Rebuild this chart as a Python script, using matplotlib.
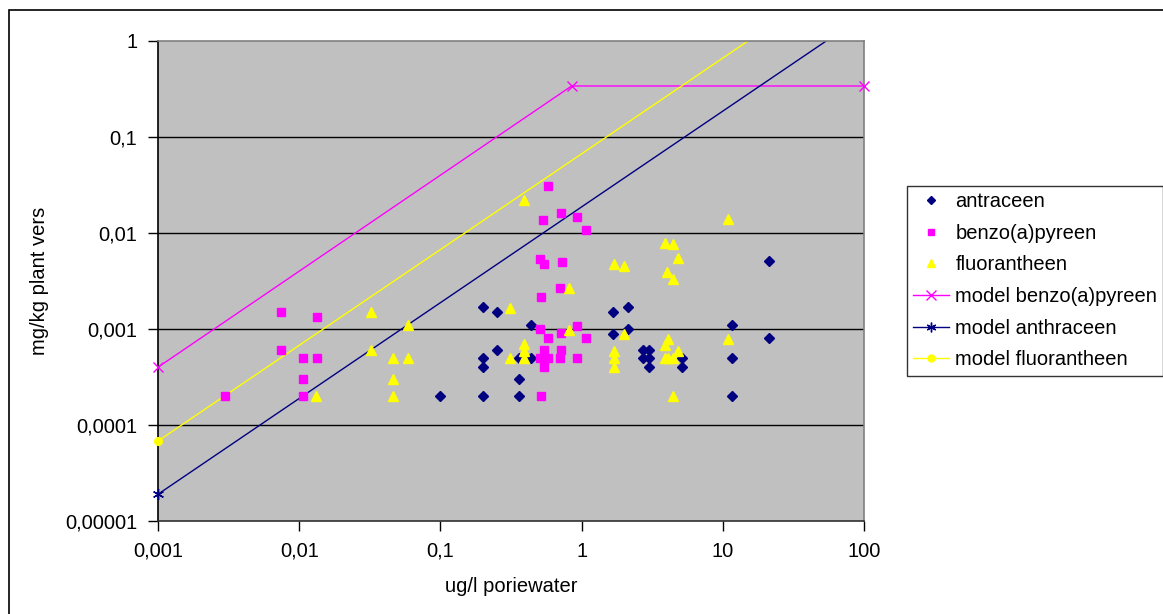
import matplotlib.pyplot as plt
from matplotlib.patches import Rectangle
from matplotlib.ticker import FixedLocator, NullLocator

plt.rcParams['font.family'] = ['Liberation Sans', 'DejaVu Sans']

# measured data, ug/l poriewater vs mg/kg plant vers
antr_x = [0.1, 0.2, 0.25, 0.44, 0.25, 0.2, 0.2, 0.36, 0.44, 0.36, 0.2, 0.36,
          1.68, 2.14, 1.68, 2.14, 21.2, 11.6, 21.2, 2.74, 3.0, 2.74, 3.0, 3.0,
          5.14, 5.14, 11.6, 11.6]
antr_y = [0.0002, 0.0017, 0.0015, 0.0011, 0.0006, 0.0005, 0.0004, 0.0005, 0.0005,
          0.0003, 0.0002, 0.0002, 0.0015, 0.0017, 0.00089, 0.001, 0.0051, 0.0011,
          0.0008, 0.0006, 0.0006, 0.0005, 0.0005, 0.0004, 0.0005, 0.0004, 0.0005,
          0.0002]

bap_x = [0.0074, 0.0133, 0.0074, 0.0107, 0.0133, 0.0107, 0.003, 0.0107,
         0.58, 0.72, 0.53, 0.93, 1.08, 0.51, 0.545, 0.73, 0.70, 0.52, 0.51, 0.93,
         0.72, 0.58, 1.08, 0.545, 0.72, 0.70, 0.51, 0.58, 0.93, 0.545, 0.52]
bap_y = [0.0015, 0.00132, 0.0006, 0.0005, 0.0005, 0.0003, 0.0002, 0.0002,
         0.031, 0.016, 0.0137, 0.0146, 0.0107, 0.0054, 0.0048, 0.005, 0.0027,
         0.00214, 0.001, 0.00108, 0.00091, 0.0008, 0.0008, 0.0006, 0.0006, 0.0005,
         0.0005, 0.0005, 0.0005, 0.0004, 0.0002]

fluo_x = [0.032, 0.059, 0.032, 0.046, 0.059, 0.046, 0.0131, 0.046,
          0.39, 1.70, 2.0, 0.81, 0.31, 0.81, 2.0, 0.39, 0.39, 0.31, 0.39, 1.70,
          1.70, 1.70, 10.9, 3.88, 4.42, 4.80, 4.03, 4.42, 4.07, 3.88, 4.80, 3.88,
          4.07, 4.42, 10.9, 4.42]
fluo_y = [0.0015, 0.0011, 0.0006, 0.0005, 0.0005, 0.0003, 0.0002, 0.0002,
          0.022, 0.0048, 0.0045, 0.00265, 0.00167, 0.00098, 0.00089, 0.00069,
          0.00059, 0.0005, 0.0005, 0.00059, 0.0005, 0.0004, 0.014, 0.0078, 0.0076,
          0.0055, 0.0039, 0.0033, 0.00078, 0.00068, 0.00059, 0.0005, 0.0005,
          0.0005, 0.00079, 0.0002]

# model lines
mod_bap_x = [0.001, 0.85, 100]
mod_bap_y = [0.0004, 0.34, 0.34]
mod_antr_x = [0.001, 100]
mod_antr_y = [0.000019, 1.85]
mod_fluo_x = [0.001, 100]
mod_fluo_y = [0.000068, 6.6]

xticks = [0.001, 0.01, 0.1, 1, 10, 100]
xlabels = ['0,001', '0,01', '0,1', '1', '10', '100']
yticks = [0.00001, 0.0001, 0.001, 0.01, 0.1, 1]
ylabels = ['0,00001', '0,0001', '0,001', '0,01', '0,1', '1']

navy = '#000080'
magenta = '#FF00FF'
yellow = '#FFFF00'

fig = plt.figure(figsize=(11.63, 6.14), dpi=100)
ax = fig.add_axes([158/1163, 1-521/614, 706/1163, 480/614])
ax.set_facecolor('#C0C0C0')
ax.set_xscale('log')
ax.set_yscale('log')
ax.set_xlim(0.001, 100)
ax.set_ylim(0.00001, 1)

for yt in yticks[1:-1]:
    ax.axhline(yt, color='black', lw=1, zorder=1)

ax.plot(antr_x, antr_y, ls='none', marker='D', ms=5.5, color=navy,
        mec=navy, label='antraceen', zorder=3)
ax.plot(bap_x, bap_y, ls='none', marker='s', ms=5.5, color=magenta,
        mec=magenta, label='benzo(a)pyreen', zorder=3)
ax.plot(fluo_x, fluo_y, ls='none', marker='^', ms=6.5, color=yellow,
        mec=yellow, label='fluorantheen', zorder=3)

# lines clipped, markers shown whole when inside the range
ax.plot(mod_bap_x, mod_bap_y, color=magenta, lw=1, zorder=2)
ax.plot(mod_antr_x, mod_antr_y, color=navy, lw=1, zorder=2)
ax.plot(mod_fluo_x, mod_fluo_y, color=yellow, lw=1, zorder=2)
for xs, ys, m, c, s in [(mod_bap_x, mod_bap_y, 'x', magenta, 7),
                        (mod_antr_x, mod_antr_y, (6, 2, 0), navy, 8),
                        (mod_fluo_x, mod_fluo_y, 'o', yellow, 5.5)]:
    px = [x for x, y in zip(xs, ys) if y <= 1]
    py = [y for y in ys if y <= 1]
    ax.plot(px, py, ls='none', marker=m, ms=s, color=c, mec=c, mew=1,
            clip_on=False, zorder=4)

# legend proxies
h1, = ax.plot([], [], ls='none', marker='D', ms=4.5, color=navy, label='antraceen')
h2, = ax.plot([], [], ls='none', marker='s', ms=5, color=magenta, label='benzo(a)pyreen')
h3, = ax.plot([], [], ls='none', marker='^', ms=5.5, color=yellow, label='fluorantheen')
h4, = ax.plot([], [], color=magenta, marker='x', ms=7, lw=1, label='model benzo(a)pyreen')
h5, = ax.plot([], [], color=navy, marker=(6, 2, 0), ms=7, lw=1, label='model anthraceen')
h6, = ax.plot([], [], color=yellow, marker='o', ms=5, lw=1, label='model fluorantheen')
leg = fig.legend(handles=[h1, h2, h3, h4, h5, h6], loc='upper left',
                 bbox_to_anchor=(907/1163, 1-186/614), fontsize=14.5,
                 frameon=True, fancybox=False, edgecolor='black',
                 handlelength=1.8, handletextpad=0.3, labelspacing=0.63,
                 borderpad=0.3, borderaxespad=0)
leg.get_frame().set_linewidth(1)

ax.xaxis.set_major_locator(FixedLocator(xticks))
ax.yaxis.set_major_locator(FixedLocator(yticks))
ax.xaxis.set_minor_locator(NullLocator())
ax.yaxis.set_minor_locator(NullLocator())
ax.set_xticklabels(xlabels)
ax.set_yticklabels(ylabels)
ax.tick_params(axis='both', direction='out', length=7, width=1,
               labelsize=14.5, pad=8)

ax.spines['left'].set_color('black')
ax.spines['bottom'].set_color('#303030')
ax.spines['top'].set_color('#808080')
ax.spines['right'].set_color('#808080')
for sp in ax.spines.values():
    sp.set_linewidth(1.2)

fig.text(40/1163, 1-281/614, 'mg/kg plant vers', rotation=90, fontsize=14.5,
         ha='center', va='center')
fig.text(511/1163, 1-586/614, 'ug/l poriewater', fontsize=14.5,
         ha='center', va='center')

# outer chart border
fig.patches.append(Rectangle((9/1163, -0.1), 1.2, 1-10/614+0.1,
                             transform=fig.transFigure, fill=False,
                             edgecolor='black', lw=1.2, zorder=0))

fig.savefig('out.png', dpi=100)
